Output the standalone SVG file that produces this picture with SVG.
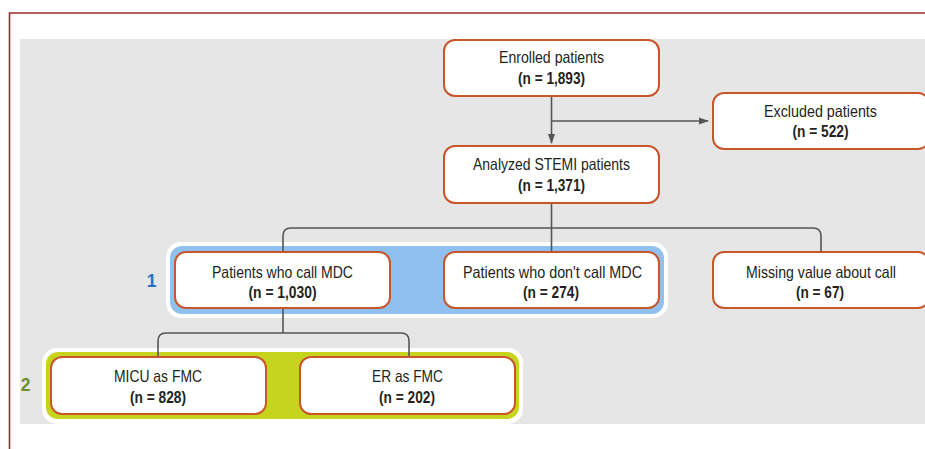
<svg xmlns="http://www.w3.org/2000/svg" width="925" height="449" viewBox="0 0 925 449">
<style>
.box{fill:#ffffff;stroke:#c8562a;stroke-width:2}
.t{font-family:"Liberation Sans",Arial,sans-serif;font-size:16.5px;fill:#231f20;text-anchor:middle}
.b{font-weight:bold;font-size:16px}
.con{fill:none;stroke:#555555;stroke-width:1.6}
.lbl{font-family:"Liberation Sans",Arial,sans-serif;font-size:17.5px;font-weight:bold;text-anchor:middle}
</style>
<defs>
<marker id="arr" markerWidth="10" markerHeight="8" refX="9" refY="4" orient="auto" markerUnits="userSpaceOnUse">
<path d="M0,0.5 L10,4 L0,7.5 z" fill="#555555"/>
</marker>
</defs>
<rect x="0" y="0" width="925" height="449" fill="#ffffff"/>
<path d="M9.5,449 V13 H925" fill="none" stroke="#9b2b2b" stroke-width="1.6"/>
<rect x="20" y="39" width="905" height="385" fill="#e6e6e6"/>

<g id="group1">
<rect x="166" y="242" width="502" height="76" rx="15" fill="#ffffff"/>
<rect x="170" y="246" width="494" height="68" rx="12" fill="#90c1ee"/>
<text class="lbl" x="151.5" y="287" fill="#2a70bf">1</text>
</g>
<g id="group2">
<rect x="42" y="348" width="481" height="76" rx="15" fill="#ffffff"/>
<rect x="46" y="352" width="473" height="67" rx="12" fill="#c6d41e"/>
<text class="lbl" x="25.5" y="391" fill="#6e8f2b">2</text>
</g>

<g id="connectors">
<path class="con" d="M551.5,96 V143" marker-end="url(#arr)"/>
<path class="con" d="M551.5,121 H708" marker-end="url(#arr)"/>
<path class="con" d="M551.5,203 V252"/>
<path class="con" d="M283,252 V236 Q283,228 291,228 H813 Q821,228 821,236 V252"/>
<path class="con" d="M283,308 V333"/>
<path class="con" d="M158,357 V341 Q158,333 166,333 H401 Q409,333 409,341 V357"/>
</g>

<g id="enrolled">
<rect class="box" x="444" y="40" width="215" height="56" rx="11"/>
<text class="t" x="551.5" y="63.3" textLength="105" lengthAdjust="spacingAndGlyphs">Enrolled patients</text>
<text class="t b" x="551.5" y="83.5" textLength="67" lengthAdjust="spacingAndGlyphs">(n = 1,893)</text>
</g>
<g id="excluded">
<rect class="box" x="713" y="93" width="216" height="56" rx="11"/>
<text class="t" x="820.5" y="116.5" textLength="113" lengthAdjust="spacingAndGlyphs">Excluded patients</text>
<text class="t b" x="820.5" y="137" textLength="56" lengthAdjust="spacingAndGlyphs">(n = 522)</text>
</g>
<g id="analyzed">
<rect class="box" x="444" y="146" width="215" height="57" rx="11"/>
<text class="t" x="551.5" y="170" textLength="157" lengthAdjust="spacingAndGlyphs">Analyzed STEMI patients</text>
<text class="t b" x="551.5" y="190.5" textLength="67" lengthAdjust="spacingAndGlyphs">(n = 1,371)</text>
</g>
<g id="call">
<rect class="box" x="175" y="252" width="215" height="56" rx="11"/>
<text class="t" x="282.5" y="277.5" textLength="141" lengthAdjust="spacingAndGlyphs">Patients who call MDC</text>
<text class="t b" x="282.5" y="297.5" textLength="68" lengthAdjust="spacingAndGlyphs">(n = 1,030)</text>
</g>
<g id="nocall">
<rect class="box" x="444" y="252" width="215" height="56" rx="11"/>
<text class="t" x="552.5" y="277.5" textLength="179" lengthAdjust="spacingAndGlyphs">Patients who don't call MDC</text>
<text class="t b" x="551" y="297.5" textLength="56" lengthAdjust="spacingAndGlyphs">(n = 274)</text>
</g>
<g id="missing">
<rect class="box" x="713" y="252" width="216" height="56" rx="11"/>
<text class="t" x="821" y="277.5" textLength="150" lengthAdjust="spacingAndGlyphs">Missing value about call</text>
<text class="t b" x="820" y="297.5" textLength="48" lengthAdjust="spacingAndGlyphs">(n = 67)</text>
</g>
<g id="micu">
<rect class="box" x="51" y="357" width="215" height="57" rx="11"/>
<text class="t" x="158" y="382" textLength="88" lengthAdjust="spacingAndGlyphs">MICU as FMC</text>
<text class="t b" x="158" y="402.5" textLength="56" lengthAdjust="spacingAndGlyphs">(n = 828)</text>
</g>
<g id="er">
<rect class="box" x="300" y="357" width="215" height="57" rx="11"/>
<text class="t" x="407.5" y="382" textLength="71" lengthAdjust="spacingAndGlyphs">ER as FMC</text>
<text class="t b" x="407" y="402.5" textLength="56" lengthAdjust="spacingAndGlyphs">(n = 202)</text>
</g>
</svg>
